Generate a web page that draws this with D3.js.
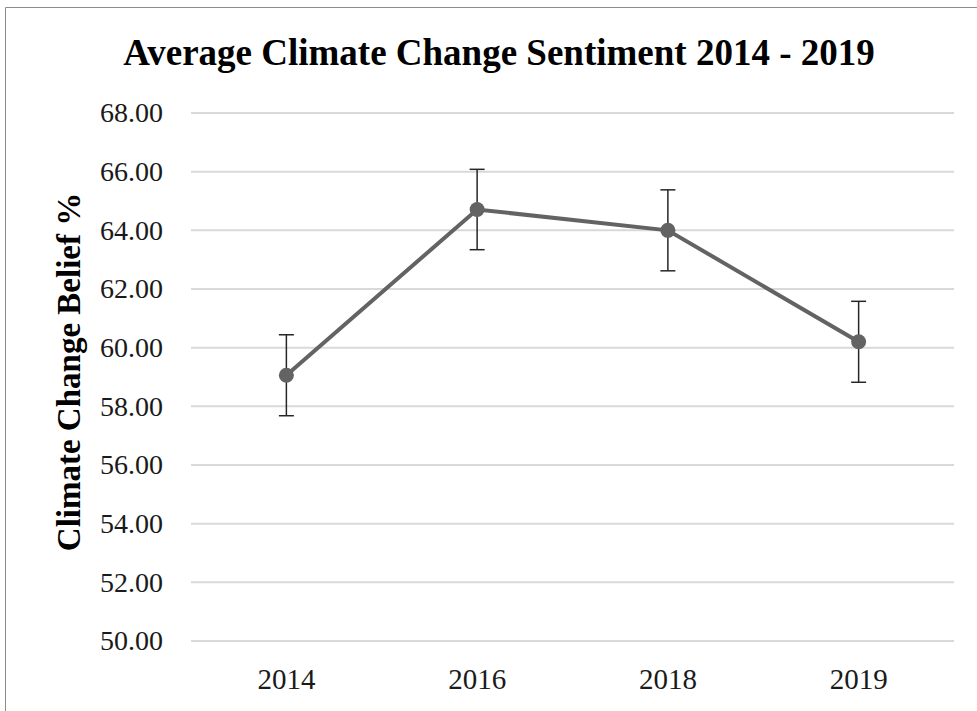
<!DOCTYPE html>
<html>
<head>
<meta charset="utf-8">
<script src="https://cdn.jsdelivr.net/npm/d3@7"></script>
<style>
  html, body { margin: 0; padding: 0; background: #fff; }
  svg { display: block; }
</style>
</head>
<body>
<div id="chart"></div>
<script>
const years = ['2014', '2016', '2018', '2019'];
const belief = [59.06, 64.71, 64.0, 60.2];
const errors = [1.38, 1.37, 1.38, 1.38];
const yTicks = [50, 52, 54, 56, 58, 60, 62, 64, 66, 68];

const W = 977, H = 711;
const margin = { top: 113, right: 23, bottom: 70, left: 191 };
const w = W - margin.left - margin.right;
const h = H - margin.top - margin.bottom;
const serif = "'Liberation Serif', 'Times New Roman', serif";

const data = years.map((yr, i) => ({ year: yr, value: belief[i], err: errors[i] }));

const svg = d3.select('#chart').append('svg')
  .attr('width', W).attr('height', H);

// frame (right and bottom edges fall outside the picture)
svg.append('path')
  .attr('d', `M5.5,${H} V7.5 H${W}`)
  .attr('fill', 'none').attr('stroke', '#8c8c8c').attr('stroke-width', 1);

const g = svg.append('g').attr('transform', `translate(${margin.left},${margin.top})`);

const x = d3.scaleBand().domain(years).range([0, w]);
const y = d3.scaleLinear().domain([50, 68]).range([h, 0]);

// Grid lines
g.append('g')
  .selectAll('line')
  .data(yTicks)
  .enter().append('line')
  .attr('x1', 0).attr('x2', w)
  .attr('y1', d => y(d)).attr('y2', d => y(d))
  .attr('stroke', '#d9d9d9').attr('stroke-width', 2);

// Axes (labels only)
const yAxis = g.append('g')
  .call(d3.axisLeft(y).tickValues(yTicks).tickFormat(d3.format('.2f')).tickSize(0).tickPadding(28));
yAxis.select('.domain').remove();
yAxis.selectAll('text')
  .attr('fill', '#1a1a1a')
  .attr('font-family', serif)
  .attr('font-size', '28px');

const xAxis = g.append('g')
  .attr('transform', `translate(0,${h})`)
  .call(d3.axisBottom(x).tickSize(0).tickPadding(27));
xAxis.select('.domain').remove();
xAxis.selectAll('text')
  .attr('fill', '#1a1a1a')
  .attr('font-family', serif)
  .attr('font-size', '29px');

// Y label
g.append('text')
  .attr('transform', 'rotate(-90)')
  .attr('x', -(372 - margin.top)).attr('y', -111)
  .attr('text-anchor', 'middle')
  .attr('fill', '#000')
  .attr('font-family', serif)
  .attr('font-weight', 'bold')
  .attr('font-size', '33px')
  .text('Climate Change Belief %');

// Title
svg.append('text')
  .attr('x', 499).attr('y', 65)
  .attr('text-anchor', 'middle')
  .attr('fill', '#000')
  .attr('font-family', serif)
  .attr('font-weight', 'bold')
  .attr('font-size', '37px')
  .text('Average Climate Change Sentiment 2014 - 2019');

const cx = d => x(d.year) + x.bandwidth() / 2;

// Line
const line = d3.line().x(cx).y(d => y(d.value));
g.append('path')
  .datum(data)
  .attr('fill', 'none')
  .attr('stroke', '#636363')
  .attr('stroke-width', 4)
  .attr('d', line);

// Error bars
const eb = g.append('g').attr('stroke', '#262626').attr('stroke-width', 1.5);
eb.selectAll('.stem').data(data).enter().append('line')
  .attr('x1', cx).attr('x2', cx)
  .attr('y1', d => y(d.value + d.err)).attr('y2', d => y(d.value - d.err));
eb.selectAll('.capT').data(data).enter().append('line')
  .attr('x1', d => cx(d) - 7.5).attr('x2', d => cx(d) + 7.5)
  .attr('y1', d => y(d.value + d.err)).attr('y2', d => y(d.value + d.err));
eb.selectAll('.capB').data(data).enter().append('line')
  .attr('x1', d => cx(d) - 7.5).attr('x2', d => cx(d) + 7.5)
  .attr('y1', d => y(d.value - d.err)).attr('y2', d => y(d.value - d.err));

// Markers
g.selectAll('.dot').data(data).enter().append('circle')
  .attr('cx', cx).attr('cy', d => y(d.value))
  .attr('r', 7.5).attr('fill', '#636363');
</script>
</body>
</html>
